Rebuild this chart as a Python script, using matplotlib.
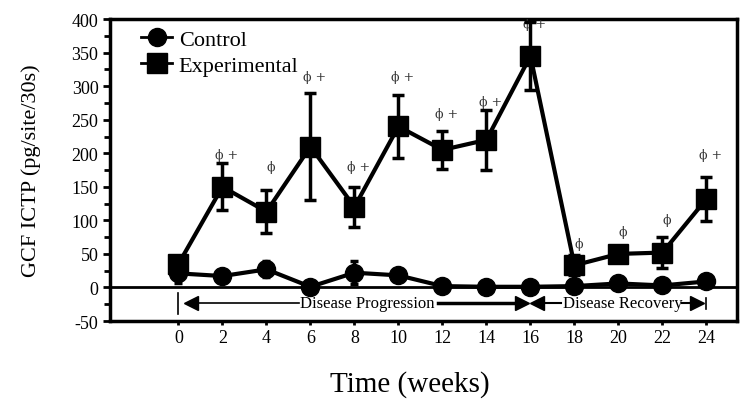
"""Recreate the GCF ICTP time course figure (control vs experimental)."""

import matplotlib

matplotlib.use("Agg")
import matplotlib.pyplot as plt
from matplotlib.lines import Line2D

weeks = [0, 2, 4, 6, 8, 10, 12, 14, 16, 18, 20, 22, 24]
exp_mean = [35, 150, 113, 210, 120, 240, 205, 220, 345, 33, 50, 52, 132]
exp_err = [10, 35, 32, 80, 30, 47, 28, 45, 50, 15, 12, 23, 33]
ctrl_mean = [21, 17, 27, 1, 22, 18, 2, 1, 1, 2, 6, 3, 9]
ctrl_err = [15, 6, 12, 3, 17, 5, 3, 2, 2, 2, 3, 2, 3]

sig_labels = ["", "ϕ +", "ϕ", "ϕ +", "ϕ +", "ϕ +", "ϕ +", "ϕ +", "ϕ +", "ϕ", "ϕ", "ϕ", "ϕ +"]
sig_y = [None, 198, 180, 314, 180, 315, 259, 277, 393, 65, 83, 101, 198]

plt.rcParams["font.family"] = ["Liberation Serif", "DejaVu Serif"]
plt.rcParams["axes.unicode_minus"] = False

fig = plt.figure(figsize=(7.5, 4.02), dpi=100)
ax = fig.add_axes([0.147, 0.199, 0.836, 0.751])

ax.axhline(0, color="black", linewidth=2, zorder=1)

ax.errorbar(weeks, ctrl_mean, yerr=ctrl_err, color="black", marker="o",
            markersize=13, linewidth=3, elinewidth=2.5, capsize=3, capthick=2.5,
            zorder=3)
ax.errorbar(weeks, exp_mean, yerr=exp_err, color="black", marker="s",
            markersize=14, linewidth=3, elinewidth=2.5, capsize=4, capthick=2.5,
            zorder=4)

for w, lab, yy in zip(weeks, sig_labels, sig_y):
    if lab:
        ax.text(w + 0.2, yy, lab, ha="center", va="center", fontsize=9,
                color="#333333", family=["DejaVu Serif"], clip_on=True)

# disease phase arrows
arrow_y = -23
ax.plot([0, 0], [-8, -40], color="black", linewidth=1.2)
ax.plot([24, 24], [-15, -32], color="black", linewidth=1.2)
ax.plot([0.5, 5.5], [arrow_y, arrow_y], color="black", linewidth=1.2)
ax.text(8.6, arrow_y, "Disease Progression", ha="center", va="center", fontsize=12)
ax.plot([11.8, 15.6], [arrow_y, arrow_y], color="black", linewidth=2.5)
ax.plot([16.2, 17.4], [arrow_y, arrow_y], color="black", linewidth=1.5)
ax.text(20.2, arrow_y, "Disease Recovery", ha="center", va="center", fontsize=12)
ax.plot([22.9, 23.5], [arrow_y, arrow_y], color="black", linewidth=1.5)
ax.plot([0.55], [arrow_y], marker="<", color="black", markersize=10)
ax.plot([15.6], [arrow_y], marker=">", color="black", markersize=10)
ax.plot([16.3], [arrow_y], marker="<", color="black", markersize=10)
ax.plot([23.55], [arrow_y], marker=">", color="black", markersize=10)

ax.set_xlim(-3.1, 25.4)
ax.set_ylim(-50, 400)
ax.set_xticks(weeks)
ax.set_yticks(range(-50, 401, 50))
ax.set_yticks(range(-50, 401, 25), minor=True)
ax.tick_params(axis="both", labelsize=13, width=2, length=5)
ax.tick_params(axis="x", length=3, pad=3)
ax.tick_params(axis="y", which="minor", width=2, length=4)
for spine in ax.spines.values():
    spine.set_linewidth(2.5)

ax.set_ylabel("GCF ICTP (pg/site/30s)", fontsize=16, labelpad=22)
ax.set_xlabel("Time (weeks)", fontsize=21, labelpad=17)
ax.xaxis.label.set_x(0.478)

handles = [
    Line2D([], [], color="black", marker="o", markersize=13, linewidth=2),
    Line2D([], [], color="black", marker="s", markersize=14, linewidth=2),
]
ax.legend(handles, ["Control", "Experimental"], loc="upper left", frameon=False,
          fontsize=16, handlelength=1.4, handletextpad=0.3, borderaxespad=0.0,
          labelspacing=0.25, bbox_to_anchor=(0.035, 0.995))

fig.savefig("out.png", dpi=100)
plt.close(fig)
